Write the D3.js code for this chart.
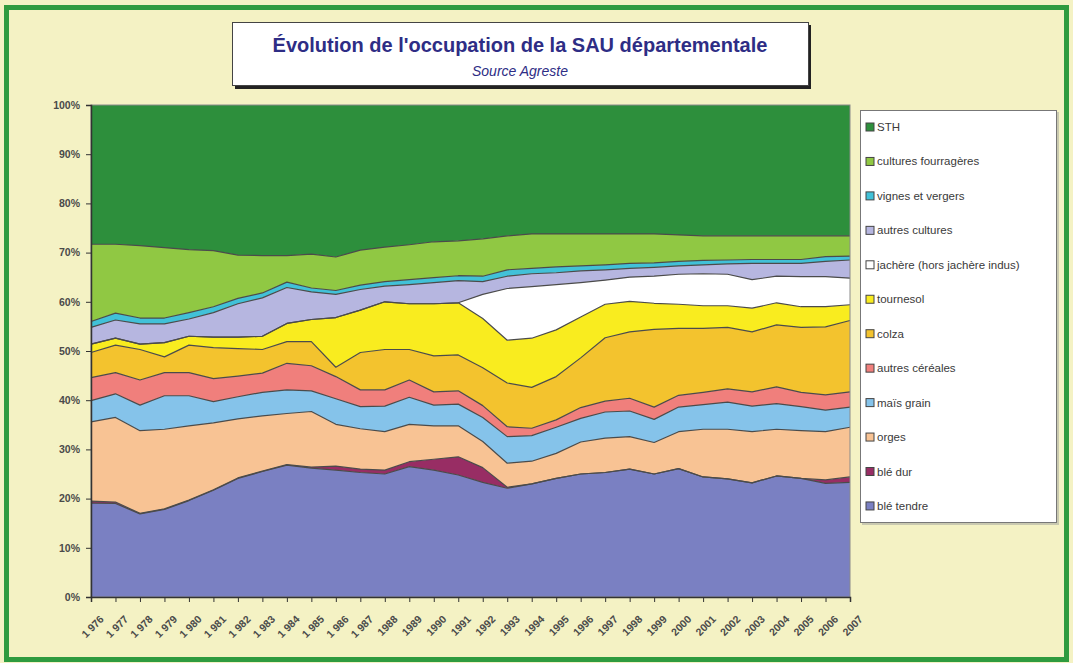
<!DOCTYPE html>
<html>
<head>
<meta charset="utf-8">
<script src="https://cdn.jsdelivr.net/npm/d3@7"></script>
<style>
  body { margin: 0; background: #f4f2c4; }
  svg { display: block; font-family: "Liberation Sans", Arial, sans-serif; }
</style>
</head>
<body>
<svg id="chart" width="1073" height="663"></svg>
<script>
// années et libellés de l'axe
var years = [1976, 1977, 1978, 1979, 1980, 1981, 1982, 1983, 1984, 1985, 1986, 1987, 1988, 1989, 1990, 1991,
             1992, 1993, 1994, 1995, 1996, 1997, 1998, 1999, 2000, 2001, 2002, 2003, 2004, 2005, 2006, 2007];
var tickLabels = ["1 976", "1 977", "1 978", "1 979", "1 980", "1 981", "1 982", "1 983", "1 984", "1 985", "1 986", "1 987",
                  "1988", "1989", "1990", "1991", "1992", "1993", "1994", "1995", "1996", "1997", "1998", "1999",
                  "2000", "2001", "2002", "2003", "2004", "2005", "2006", "2007"];

// part de la SAU (%)
var bleTendre = [19.1, 19.0, 16.9, 17.8, 19.6, 21.7, 24.1, 25.5, 26.8, 26.2, 25.8, 25.3, 25.0, 26.5, 25.8, 24.8,
                 23.3, 22.1, 23.0, 24.1, 25.0, 25.3, 26.0, 25.0, 26.1, 24.4, 24.0, 23.2, 24.6, 24.1, 23.1, 23.3];
var bleDur = [0.4, 0.3, 0.1, 0.1, 0.1, 0.1, 0.1, 0.1, 0.1, 0.2, 0.8, 0.7, 0.8, 1.0, 2.2, 3.7,
              3.0, 0.2, 0, 0, 0, 0, 0, 0, 0, 0, 0, 0, 0, 0, 0.7, 1.1];
var orges = [16.1, 17.2, 16.8, 16.2, 15.1, 13.6, 12.0, 11.2, 10.4, 11.3, 8.5, 8.2, 7.8, 7.6, 6.8, 6.3,
             5.3, 4.9, 4.6, 5.1, 6.5, 7.0, 6.6, 6.4, 7.5, 9.7, 10.1, 10.4, 9.5, 9.7, 9.8, 10.1];
var maisGrain = [4.3, 4.8, 5.2, 6.8, 6.1, 4.3, 4.5, 4.8, 4.8, 4.2, 5.2, 4.5, 5.2, 5.5, 4.2, 4.4,
                 4.9, 5.4, 5.2, 5.3, 4.8, 5.3, 5.2, 4.7, 5.0, 5.0, 5.5, 5.2, 5.2, 4.9, 4.4, 4.1];
var autresCereales = [4.7, 4.3, 5.1, 4.7, 4.7, 4.7, 4.2, 3.9, 5.4, 5.1, 4.5, 3.4, 3.3, 3.5, 2.7, 2.7,
                      2.4, 2.0, 1.5, 1.5, 2.2, 2.2, 2.6, 2.5, 2.4, 2.5, 2.7, 2.9, 3.4, 2.9, 3.1, 3.1];
var colza = [5.1, 5.6, 6.2, 3.2, 5.6, 6.3, 5.6, 4.8, 4.4, 4.9, 1.9, 7.6, 8.2, 6.2, 7.3, 7.3,
             7.7, 8.9, 8.3, 8.8, 10.1, 12.9, 13.5, 15.8, 13.6, 13.0, 12.5, 12.2, 12.6, 13.2, 13.8, 14.5];
var tournesol = [1.7, 1.4, 1.1, 2.9, 1.8, 2.1, 2.3, 2.7, 3.7, 4.5, 10.1, 8.6, 9.7, 9.3, 10.6, 10.6,
                 10.0, 8.7, 10.0, 9.5, 8.3, 6.8, 6.2, 5.3, 4.9, 4.6, 4.4, 4.8, 4.5, 4.2, 4.1, 3.2];
var jachere = [0, 0, 0, 0, 0, 0, 0, 0, 0, 0, 0, 0, 0, 0, 0, 0,
               4.9, 10.5, 10.5, 9.2, 7.0, 4.9, 4.9, 5.5, 6.1, 6.5, 6.4, 5.8, 5.4, 6.1, 6.1, 5.4];
var autresCultures = [3.4, 3.7, 4.1, 3.8, 3.5, 5.0, 6.8, 7.8, 7.3, 5.6, 4.7, 4.2, 3.2, 3.9, 4.3, 4.5,
                      2.6, 2.5, 2.6, 2.4, 2.4, 2.1, 1.8, 1.8, 1.7, 1.8, 2.1, 3.3, 2.6, 2.7, 3.1, 3.7];
var vignes = [1.2, 1.4, 1.2, 1.2, 1.3, 1.2, 1.1, 1.0, 1.1, 0.8, 0.8, 0.9, 0.9, 1.0, 1.0, 1.0,
              1.1, 1.3, 1.1, 1.2, 1.0, 1.0, 1.0, 0.9, 0.9, 0.9, 0.8, 0.8, 0.8, 0.8, 1.0, 0.8];
var fourrageres = [15.7, 14.0, 14.7, 14.3, 12.8, 11.4, 8.8, 7.6, 5.4, 6.9, 6.8, 7.1, 7.0, 7.1, 7.3, 7.1,
                   7.6, 6.9, 7.0, 6.7, 6.5, 6.3, 6.0, 5.9, 5.4, 5.0, 4.9, 4.8, 4.8, 4.8, 4.2, 4.1];
var sth = [28.3, 28.3, 28.6, 29.0, 29.4, 29.6, 30.5, 30.6, 30.6, 30.3, 30.9, 29.5, 28.9, 28.4, 27.8, 27.6,
           27.2, 26.6, 26.2, 26.2, 26.2, 26.2, 26.2, 26.2, 26.4, 26.6, 26.6, 26.6, 26.6, 26.6, 26.6, 26.6];

// séries de bas en haut
var series = [
    {name: "blé tendre", values: bleTendre, color: "#7a80c2"},
    {name: "blé dur", values: bleDur, color: "#982d64"},
    {name: "orges", values: orges, color: "#f8c394"},
    {name: "maïs grain", values: maisGrain, color: "#85c3ea"},
    {name: "autres céréales", values: autresCereales, color: "#f07f7c"},
    {name: "colza", values: colza, color: "#f3c32e"},
    {name: "tournesol", values: tournesol, color: "#f9ec1f"},
    {name: "jachère (hors jachère indus)", values: jachere, color: "#ffffff"},
    {name: "autres cultures", values: autresCultures, color: "#b6b6e0"},
    {name: "vignes et vergers", values: vignes, color: "#41c1d8"},
    {name: "cultures fourragères", values: fourrageres, color: "#90c843"},
    {name: "STH", values: sth, color: "#2d8f3c"}
];

var rows = years.map(function (y, i) {
    var r = {year: y};
    series.forEach(function (s) { r[s.name] = s.values[i]; });
    return r;
});

var svg = d3.select("#chart"),
    width = +svg.attr("width"),
    height = +svg.attr("height"),
    plot = {left: 91, right: 850, top: 105, bottom: 597};

// fond et cadre vert
svg.append("rect")
    .attr("width", width).attr("height", height)
    .attr("fill", "#f4f2c4");
svg.append("rect")
    .attr("x", 6.5).attr("y", 7.5)
    .attr("width", 1060).attr("height", 652)
    .attr("fill", "none")
    .attr("stroke", "#2f9b3f")
    .attr("stroke-width", 5);

// titre
svg.append("rect")
    .attr("x", 235).attr("y", 25)
    .attr("width", 576).attr("height", 64)
    .attr("fill", "#222");
svg.append("rect")
    .attr("x", 232.5).attr("y", 22.5)
    .attr("width", 576).attr("height", 63)
    .attr("fill", "#fff")
    .attr("stroke", "#444");
svg.append("text")
    .attr("x", 520).attr("y", 52)
    .attr("text-anchor", "middle")
    .attr("font-size", 20).attr("font-weight", "bold")
    .attr("fill", "#2e2d85")
    .text("Évolution de l'occupation de la SAU départementale");
svg.append("text")
    .attr("x", 520).attr("y", 76)
    .attr("text-anchor", "middle")
    .attr("font-size", 14).attr("font-style", "italic")
    .attr("fill", "#2e2d85")
    .text("Source Agreste");

var x = d3.scalePoint()
    .domain(years)
    .range([plot.left, plot.right]);
var y = d3.scaleLinear()
    .domain([0, 1])
    .range([plot.bottom, plot.top]);

var stack = d3.stack()
    .keys(series.map(function (s) { return s.name; }))
    .offset(d3.stackOffsetExpand);
var layers = stack(rows);

var area = d3.area()
    .x(function (d) { return x(d.data.year); })
    .y0(function (d) { return y(d[0]); })
    .y1(function (d) { return y(d[1]); });
var topLine = d3.line()
    .x(function (d) { return x(d.data.year); })
    .y(function (d) { return y(d[1]); });

var g = svg.append("g");
g.selectAll("path.area")
    .data(layers)
    .enter().append("path")
    .attr("class", "area")
    .attr("d", area)
    .attr("fill", function (d, i) { return series[i].color; });
g.selectAll("path.edge")
    .data(layers.slice(0, layers.length - 1))
    .enter().append("path")
    .attr("class", "edge")
    .attr("d", topLine)
    .attr("fill", "none")
    .attr("stroke", "#4b4b4b")
    .attr("stroke-width", 1.2)
    .attr("stroke-linejoin", "round");

// bord de la zone de tracé
svg.append("rect")
    .attr("x", plot.left).attr("y", plot.top)
    .attr("width", plot.right - plot.left).attr("height", plot.bottom - plot.top)
    .attr("fill", "none")
    .attr("stroke", "#8a8a8a");

// axes
var yAxis = svg.append("g")
    .attr("transform", "translate(" + plot.left + ",0)")
    .call(d3.axisLeft(y).ticks(10).tickFormat(d3.format(".0%")).tickSize(5).tickPadding(6));
var xAxis = svg.append("g")
    .attr("transform", "translate(0," + plot.bottom + ")")
    .call(d3.axisBottom(x).tickFormat(function (d, i) { return tickLabels[i]; }).tickSize(5).tickPadding(4));

[yAxis, xAxis].forEach(function (a) {
    a.select(".domain").attr("stroke", "#333").attr("stroke-width", 1.5);
    a.selectAll(".tick line").attr("stroke", "#333");
    a.selectAll("text")
        .attr("font-family", "Liberation Sans, Arial, sans-serif")
        .attr("font-size", 10.5)
        .attr("font-weight", "bold")
        .attr("fill", "#4a4a4a");
});
xAxis.selectAll("text")
    .attr("text-anchor", "end")
    .attr("dy", "0.35em")
    .attr("transform", "translate(4,14) rotate(-45)");

// légende (ordre inverse)
var legend = svg.append("g");
legend.append("rect")
    .attr("x", 862).attr("y", 112)
    .attr("width", 197).attr("height", 413)
    .attr("fill", "#c9c9b0");
legend.append("rect")
    .attr("x", 860.5).attr("y", 110.5)
    .attr("width", 196).attr("height", 412)
    .attr("fill", "#fff")
    .attr("stroke", "#777");
var items = legend.selectAll("g.item")
    .data(series.slice().reverse())
    .enter().append("g")
    .attr("class", "item")
    .attr("transform", function (d, i) { return "translate(866," + (127 + i * 34.45) + ")"; });
items.append("rect")
    .attr("x", 0).attr("y", -4)
    .attr("width", 8).attr("height", 8)
    .attr("fill", function (d) { return d.color; })
    .attr("stroke", "#444");
items.append("text")
    .attr("x", 11).attr("y", 0)
    .attr("dy", "0.35em")
    .attr("font-size", 11.5)
    .attr("fill", "#3a3a3a")
    .text(function (d) { return d.name; });
</script>
</body>
</html>
